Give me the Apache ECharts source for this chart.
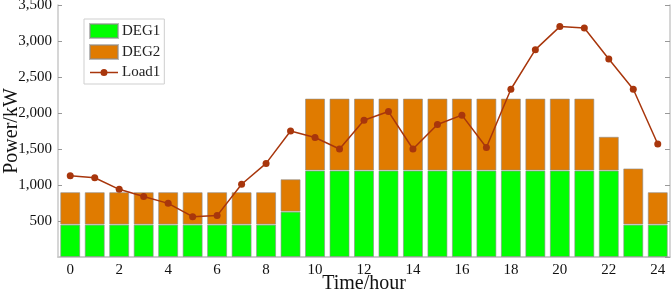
<!DOCTYPE html>
<html>
<head>
<meta charset="utf-8">
<script src="https://cdn.jsdelivr.net/npm/echarts@6/dist/echarts.min.js"></script>
<style>
  html, body { margin: 0; padding: 0; background: #fff; }
  #chart { width: 671px; height: 292px; }
</style>
</head>
<body>
<div id="chart"></div>
<script>
const hours = ['0','1','2','3','4','5','6','7','8','9','10','11','12','13','14','15','16','17','18','19','20','21','22','23','24']
const deg1 = [450,450,450,450,450,450,450,450,450,630,1200,1200,1200,1200,1200,1200,1200,1200,1200,1200,1200,1200,1200,450,450]
const deg2 = [450,450,450,450,450,450,450,450,450,450,1000,1000,1000,1000,1000,1000,1000,1000,1000,1000,1000,1000,470,780,450]
const load1 = [1130,1100,940,840,745,560,575,1010,1300,1750,1660,1500,1900,2020,1500,1840,1970,1520,2330,2880,3200,3180,2750,2330,1570]

const font = 'Liberation Serif'
const axisGray = '#c8c8c8'
const lineColor = '#a8360c'
// legend icon for the line series: thin line with a dot in the middle
const lineIcon = 'path://M0,6.25L28,6.25L28,7.75L0,7.75Z M17.5,7A3.5,3.5,0,1,1,10.5,7A3.5,3.5,0,1,1,17.5,7Z'

const chart = echarts.init(document.getElementById('chart'))
const option = {
  animation: false,
  textStyle: { fontFamily: font },
  grid: { left: 58, right: 1, top: 5, bottom: 35, outerBoundsMode: 'none' },
  legend: {
    left: 84,
    top: 19,
    orient: 'vertical',
    padding: [4, 4, 4, 5],
    itemGap: 5,
    itemWidth: 28,
    itemHeight: 14,
    borderColor: '#cfcfcf',
    borderWidth: 1,
    textStyle: { fontFamily: font, fontSize: 15, lineHeight: 14, color: '#222', padding: [0, 0, 0, -1] },
    data: [
      { name: 'DEG1', icon: 'rect' },
      { name: 'DEG2', icon: 'rect' },
      { name: 'Load1', icon: lineIcon },
    ],
  },
  xAxis: [
    {
      type: 'category',
      data: hours,
      name: 'Time/hour',
      nameLocation: 'middle',
      nameGap: 17,
      nameMoveOverlap: false,
      nameTextStyle: { fontFamily: font, fontSize: 20, color: '#111' },
      axisLine: { lineStyle: { color: axisGray, width: 1.5 } },
      axisTick: { show: false },
      axisLabel: { interval: 1, fontFamily: font, fontSize: 15, color: '#111', margin: 6 },
    },
    {
      type: 'category',
      data: hours,
      position: 'top',
      axisLine: { lineStyle: { color: axisGray, width: 1.5 } },
      axisTick: { inside: true, alignWithLabel: true, interval: 1, length: 5, lineStyle: { color: '#999' } },
      axisLabel: { show: false },
    },
  ],
  yAxis: [
    {
      type: 'value',
      min: 0,
      max: 3500,
      interval: 500,
      name: 'Power/kW',
      nameLocation: 'middle',
      nameGap: 36,
      nameMoveOverlap: false,
      nameTextStyle: { fontFamily: font, fontSize: 20, color: '#111' },
      axisLine: { show: true, lineStyle: { color: axisGray, width: 1.5 } },
      axisTick: { show: true, inside: true, length: 4, lineStyle: { color: '#999' } },
      splitLine: { show: false },
      axisLabel: {
        showMinLabel: false,
        fontFamily: font,
        fontSize: 15,
        color: '#111',
        margin: 6,
        formatter: v => v.toLocaleString('en-US'),
      },
    },
    {
      type: 'value',
      min: 0,
      max: 3500,
      interval: 500,
      position: 'right',
      axisLine: { show: true, lineStyle: { color: axisGray, width: 1.5 } },
      axisTick: { show: true, inside: true, length: 5, lineStyle: { color: '#999' } },
      splitLine: { show: false },
      axisLabel: { show: false },
    },
  ],
  series: [
    {
      name: 'DEG1',
      type: 'bar',
      stack: 'gen',
      data: deg1,
      barWidth: 20,
      itemStyle: { color: '#00ff00', borderColor: 'rgba(140,140,140,0.6)', borderWidth: 1 },
    },
    {
      name: 'DEG2',
      type: 'bar',
      stack: 'gen',
      data: deg2,
      barWidth: 20,
      itemStyle: { color: '#e07b00', borderColor: 'rgba(140,140,140,0.6)', borderWidth: 1 },
    },
    {
      name: 'Load1',
      type: 'line',
      data: load1,
      symbol: 'circle',
      symbolSize: 7,
      lineStyle: { color: lineColor, width: 1.5 },
      itemStyle: { color: lineColor },
    },
  ],
}
chart.setOption(option)
</script>
</body>
</html>
